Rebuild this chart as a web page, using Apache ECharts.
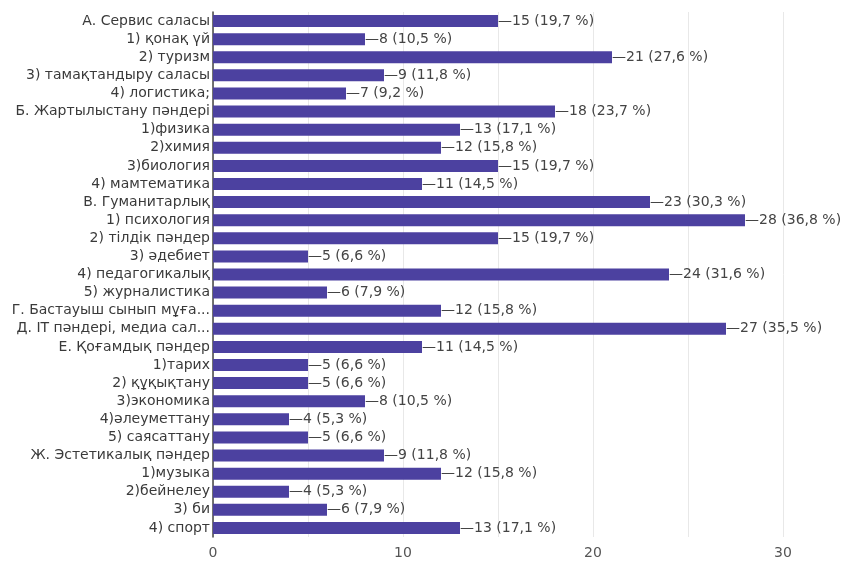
<!DOCTYPE html>
<html>
<head>
<meta charset="utf-8">
<script src="https://cdn.jsdelivr.net/npm/echarts@6/dist/echarts.min.js"></script>
<style>
html,body{margin:0;padding:0;background:#fff;}
#chart{width:845px;height:563px;}
</style>
</head>
<body>
<div id="chart"></div>
<script>
const categories = [
  "А. Сервис саласы",
  "1) қонақ үй",
  "2) туризм",
  "3) тамақтандыру саласы",
  "4) логистика;",
  "Б. Жартылыстану пәндері",
  "1)физика",
  "2)химия",
  "3)биология",
  "4) мамтематика",
  "В. Гуманитарлық",
  "1) психология",
  "2) тілдік пәндер",
  "3) әдебиет",
  "4) педагогикалық",
  "5) журналистика",
  "Г. Бастауыш сынып мұға...",
  "Д. IT пәндері, медиа сал...",
  "Е. Қоғамдық пәндер",
  "1)тарих",
  "2) құқықтану",
  "3)экономика",
  "4)әлеуметтану",
  "5) саясаттану",
  "Ж. Эстетикалық пәндер",
  "1)музыка",
  "2)бейнелеу",
  "3) би",
  "4) спорт"
];
const counts = [15, 8, 21, 9, 7, 18, 13, 12, 15, 11, 23, 28, 15, 5, 24, 6, 12, 27, 11, 5, 5, 8, 4, 5, 9, 12, 4, 6, 13];
const percents = ["19,7", "10,5", "27,6", "11,8", "9,2", "23,7", "17,1", "15,8", "19,7", "14,5", "30,3", "36,8", "19,7", "6,6", "31,6", "7,9", "15,8", "35,5", "14,5", "6,6", "6,6", "10,5", "5,3", "6,6", "11,8", "15,8", "5,3", "7,9", "17,1"];
const xTicks = [0, 10, 20, 30];

const chart = echarts.init(document.getElementById('chart'));
const font = 'DejaVu Sans, Arial, sans-serif';
chart.setOption({
  animation: false,
  backgroundColor: '#ffffff',
  grid: { left: 213, right: 62, top: 12, bottom: 26, containLabel: false },
  xAxis: {
    type: 'value', min: 0, max: 30, interval: 5,
    axisLine: { show: false }, axisTick: { show: false },
    splitLine: { show: true, lineStyle: { color: '#e8e8e8', width: 1 } },
    axisLabel: {
      color: '#555', fontSize: 14, fontFamily: font, margin: 9,
      formatter: v => xTicks.includes(v) ? String(v) : ''
    }
  },
  yAxis: {
    type: 'category', data: categories, inverse: true,
    axisLine: { show: true, lineStyle: { color: '#444', width: 1.5 } },
    axisTick: { show: false },
    axisLabel: { color: '#3a3a3a', fontSize: 14, fontFamily: font, margin: 3, interval: 0 }
  },
  series: [{
    type: 'bar', data: counts, barWidth: 12,
    itemStyle: { color: '#4c41a0' },
    label: {
      show: true, position: 'right', distance: 0,
      color: '#444', fontSize: 14, fontFamily: font,
      formatter: p => '—' + counts[p.dataIndex] + ' (' + percents[p.dataIndex] + ' %)'
    }
  }]
});
</script>
</body>
</html>
